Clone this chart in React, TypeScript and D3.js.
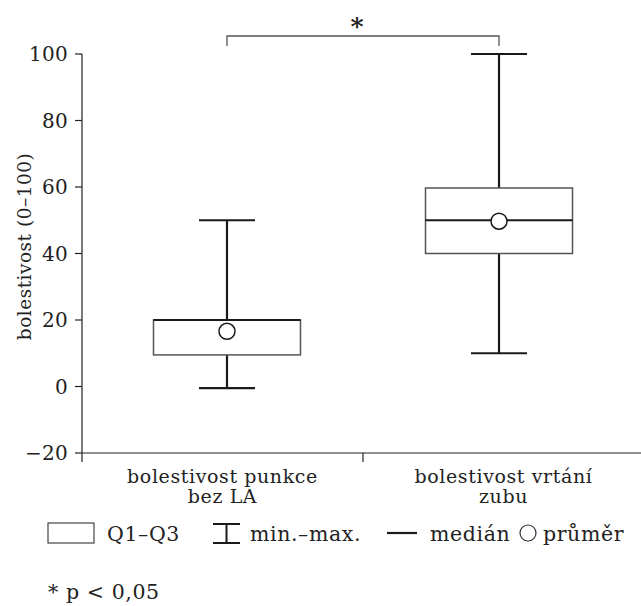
import React from 'react';
import * as d3 from 'd3';

const categories = ['punkce', 'vrtani'];
const categoryLabels = [['bolestivost punkce', 'bez LA'], ['bolestivost vrtání', 'zubu']];
const minValues = [-0.5, 10];
const q1Values = [9.5, 40];
const medianValues = [20, 50];
const q3Values = [20, 59.7];
const maxValues = [50, 100];
const meanValues = [16.6, 49.7];
const yTicks = [-20, 0, 20, 40, 60, 80, 100];

const width = 641;
const height = 606;
const margin = { top: 54, right: -3, bottom: 153, left: 82 };
const font = '"DejaVu Serif", serif';
const ink = '#222';

export default function App() {
  const x = d3.scaleBand<string>().domain(categories).range([margin.left, width - margin.right]);
  const xBox = d3.scalePoint<string>().domain(categories).range([margin.left, width - margin.right]).padding(0.533);
  const y = d3.scaleLinear().domain([-20, 100]).range([height - margin.bottom, margin.top]);

  const boxW = 147;
  const capW = 56;
  const y0 = y(-20);

  const bracketY = y(100) - 18;

  return (
    <svg width={width} height={height} style={{ position: 'absolute', left: 0, top: 0, background: '#fff' }}
      fontFamily={font}>
      {/* y axis */}
      <line x1={margin.left} x2={margin.left} y1={y(100)} y2={y0 + 9} stroke={ink} strokeWidth={1.2} />
      {yTicks.map(t => (
        <g key={t}>
          <line x1={margin.left - 7} x2={margin.left} y1={y(t)} y2={y(t)} stroke={ink} strokeWidth={1.2} />
          <text x={margin.left - 14} y={y(t)} dy="0.36em" textAnchor="end" fontSize={20} fill={ink} letterSpacing={0.3}>
            {t < 0 ? '\u2212' + Math.abs(t) : t}
          </text>
        </g>
      ))}
      <text transform={`translate(31,${y(40) - 7}) rotate(-90)`} textAnchor="middle" fontSize={18.5} fill={ink} letterSpacing={0.5}>
        bolestivost (0–100)
      </text>

      {/* x axis */}
      <line x1={margin.left} x2={width} y1={y0} y2={y0} stroke={ink} strokeWidth={1.2} />
      {categories.slice(1).map(c => (
        <line key={c} x1={x(c)!} x2={x(c)!} y1={y0} y2={y0 + 9} stroke={ink} strokeWidth={1.2} />
      ))}
      {categories.map((c, i) => (
        <text key={c} x={x(c)! + x.bandwidth() / 2} y={483} textAnchor="middle" fontSize={19} fill={ink} letterSpacing={0.6}>
          {categoryLabels[i].map((l, j) => (
            <tspan key={j} x={x(c)! + x.bandwidth() / 2} dy={j === 0 ? 0 : 20}>{l}</tspan>
          ))}
        </text>
      ))}

      {/* boxes */}
      {categories.map((c, i) => {
        const cx = xBox(c)!;
        return (
          <g key={c}>
            <line x1={cx} x2={cx} y1={y(maxValues[i])} y2={y(q3Values[i])} stroke="#1a1a1a" strokeWidth={2.2} />
            <line x1={cx} x2={cx} y1={y(q1Values[i])} y2={y(minValues[i])} stroke="#1a1a1a" strokeWidth={2.2} />
            <line x1={cx - capW / 2} x2={cx + capW / 2} y1={y(maxValues[i])} y2={y(maxValues[i])} stroke="#1a1a1a" strokeWidth={2.2} />
            <line x1={cx - capW / 2} x2={cx + capW / 2} y1={y(minValues[i])} y2={y(minValues[i])} stroke="#1a1a1a" strokeWidth={2.2} />
            <rect x={cx - boxW / 2} y={y(q3Values[i])} width={boxW} height={y(q1Values[i]) - y(q3Values[i])}
              fill="#fff" stroke="#555" strokeWidth={1.5} />
            <line x1={cx - boxW / 2} x2={cx + boxW / 2} y1={y(medianValues[i])} y2={y(medianValues[i])} stroke="#1a1a1a" strokeWidth={2.2} />
            <circle cx={cx} cy={y(meanValues[i])} r={8} fill="#fff" stroke="#1a1a1a" strokeWidth={1.5} />
          </g>
        );
      })}

      {/* significance bracket */}
      <path d={`M${xBox(categories[0])},${bracketY + 10}V${bracketY}H${xBox(categories[1])}V${bracketY + 10}`}
        fill="none" stroke="#555" strokeWidth={1.3} />
      <text x={357} y={35} textAnchor="middle" fontSize={25} fontWeight="bold" fill={ink}>*</text>

      {/* legend */}
      <g fontSize={20.5} fill={ink} letterSpacing={0.6}>
        <rect x={48} y={523} width={46} height={20} fill="#fff" stroke="#444" strokeWidth={1.2} />
        <text x={107} y={541}>Q1–Q3</text>
        <path d="M213,524H240M226.5,524V543M213,543H240" stroke="#1a1a1a" strokeWidth={2} fill="none" />
        <text x={250} y={541}>min.–max.</text>
        <line x1={387} x2={417} y1={533} y2={533} stroke="#1a1a1a" strokeWidth={2.2} />
        <text x={430} y={541}>medián</text>
        <circle cx={528} cy={533} r={8} fill="#fff" stroke="#333" strokeWidth={1.2} />
        <text x={543} y={541}>průměr</text>
        <text x={48} y={599}>* p &lt; 0,05</text>
      </g>
    </svg>
  );
}
